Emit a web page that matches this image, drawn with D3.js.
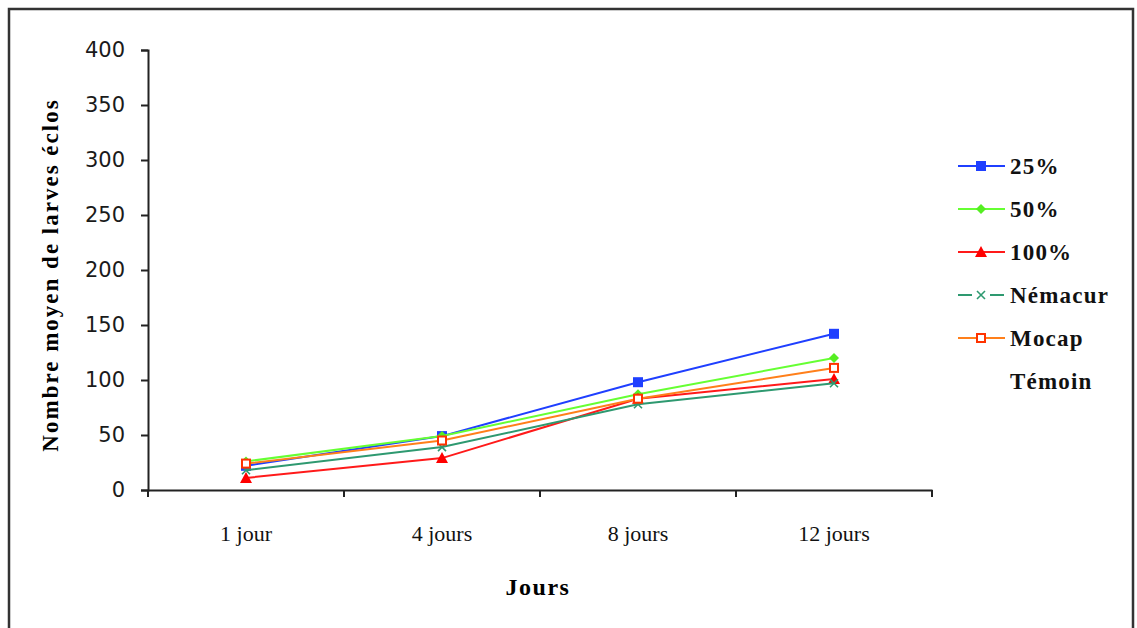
<!DOCTYPE html>
<html><head><meta charset="utf-8">
<script src="https://cdn.jsdelivr.net/npm/d3@7"></script>
<style>body{margin:0;background:#fff}svg{display:block}</style>
</head><body>
<svg id="c" width="1137" height="628"></svg>
<script>
const categories = ["1 jour", "4 jours", "8 jours", "12 jours"];
const s25 = [22, 49, 98, 142];
const s50 = [26, 49, 87, 120];
const s100 = [11, 29, 83, 101];
const sNemacur = [18, 39, 78, 97];
const sMocap = [24, 45, 83, 111];
const seriesNames = ["25%", "50%", "100%", "Némacur", "Mocap", "Témoin"];
const yTicks = [0, 50, 100, 150, 200, 250, 300, 350, 400];

const series = [
  {name: seriesNames[0], values: s25, color: "#1f3fff", mcolor: "#1f3fff", shape: "square"},
  {name: seriesNames[1], values: s50, color: "#66ff33", mcolor: "#55ee22", shape: "diamond"},
  {name: seriesNames[2], values: s100, color: "#ff1a1a", mcolor: "#ff0000", shape: "triangle"},
  {name: seriesNames[3], values: sNemacur, color: "#2e9970", mcolor: "#2e9970", shape: "x"},
  {name: seriesNames[4], values: sMocap, color: "#ff7f1a", mcolor: "#ff3300", shape: "open"},
  {name: seriesNames[5], values: null}
];

const svg = d3.select("#c");
svg.append("path").attr("d", "M9,640 V9 H1133 V640").attr("fill", "none").attr("stroke", "#333").attr("stroke-width", 2.5);

const x = d3.scaleBand().domain(categories).range([148, 932]);
const y = d3.scaleLinear().domain([0, 400]).range([490, 50]);

const yAxis = svg.append("g").attr("transform", "translate(148,0)")
  .call(d3.axisLeft(y).tickValues(yTicks).tickSize(7).tickPadding(16));
yAxis.select(".domain").attr("stroke", "#222").attr("stroke-width", 2);
yAxis.selectAll(".tick line").attr("stroke", "#222").attr("stroke-width", 2);
yAxis.selectAll("text").attr("font-family", "'DejaVu Sans', sans-serif").attr("font-size", 21).attr("fill", "#1a1a1a");

const xAxis = svg.append("g").attr("transform", "translate(0,490)")
  .call(d3.axisBottom(x).tickSize(0).tickPadding(35));
xAxis.select(".domain").attr("stroke", "#222").attr("stroke-width", 2);
xAxis.selectAll(".tick line").remove();
xAxis.selectAll("text").attr("font-family", "'Liberation Serif', serif").attr("font-size", 22).attr("fill", "#111");
const bounds = categories.map(c => x(c)).concat([x.range()[1]]);
svg.append("g").selectAll("line").data(bounds).join("line")
  .attr("x1", d => d).attr("x2", d => d).attr("y1", 490).attr("y2", 497)
  .attr("stroke", "#222").attr("stroke-width", 2);

svg.append("text").attr("x", 538).attr("y", 595).attr("text-anchor", "middle")
  .attr("font-family", "'Liberation Serif', serif").attr("font-weight", "bold").attr("font-size", 24)
  .attr("letter-spacing", 1.5).text("Jours");
svg.append("text").attr("transform", "translate(58,275) rotate(-90)").attr("text-anchor", "middle")
  .attr("font-family", "'Liberation Serif', serif").attr("font-weight", "bold").attr("font-size", 23)
  .attr("letter-spacing", 2).text("Nombre moyen de larves éclos");

function marker(g, shape, cx, cy, col) {
  if (shape === "square") g.append("rect").attr("x", cx - 5).attr("y", cy - 5).attr("width", 10).attr("height", 10).attr("fill", col);
  else if (shape === "diamond") g.append("path").attr("d", `M${cx},${cy-5}L${cx+5},${cy}L${cx},${cy+5}L${cx-5},${cy}Z`).attr("fill", col);
  else if (shape === "triangle") g.append("path").attr("d", `M${cx},${cy-6}L${cx+6},${cy+5}L${cx-6},${cy+5}Z`).attr("fill", col);
  else if (shape === "x") g.append("path").attr("d", `M${cx-4},${cy-4}L${cx+4},${cy+4}M${cx+4},${cy-4}L${cx-4},${cy+4}`).attr("stroke", col).attr("stroke-width", 1.6);
  else if (shape === "open") g.append("rect").attr("x", cx - 4).attr("y", cy - 4).attr("width", 8).attr("height", 8).attr("fill", "#fff").attr("stroke", col).attr("stroke-width", 2);
}

const line = d3.line().x((d, i) => x(categories[i]) + x.bandwidth() / 2).y(d => y(d));
series.filter(s => s.values).forEach(s => {
  const g = svg.append("g");
  g.append("path").attr("d", line(s.values)).attr("fill", "none").attr("stroke", s.color).attr("stroke-width", 2);
  s.values.forEach((v, i) => marker(g, s.shape, x(categories[i]) + x.bandwidth() / 2, y(v), s.mcolor));
});

const lg = svg.append("g");
series.forEach((s, i) => {
  const ly = 166 + i * 43;
  if (s.values) {
    if (s.shape === "x") {
      lg.append("line").attr("x1", 958).attr("x2", 972).attr("y1", ly).attr("y2", ly).attr("stroke", s.color).attr("stroke-width", 2);
      lg.append("line").attr("x1", 990).attr("x2", 1004).attr("y1", ly).attr("y2", ly).attr("stroke", s.color).attr("stroke-width", 2);
    } else {
      lg.append("line").attr("x1", 958).attr("x2", 1005).attr("y1", ly).attr("y2", ly).attr("stroke", s.color).attr("stroke-width", 2);
    }
    marker(lg, s.shape, 981, ly, s.mcolor);
  }
  lg.append("text").attr("x", 1010).attr("y", ly + 8).attr("font-family", "'Liberation Serif', serif")
    .attr("font-weight", "bold").attr("font-size", 23).attr("letter-spacing", 1.2).attr("fill", "#111").text(s.name);
});
</script>
</body></html>
